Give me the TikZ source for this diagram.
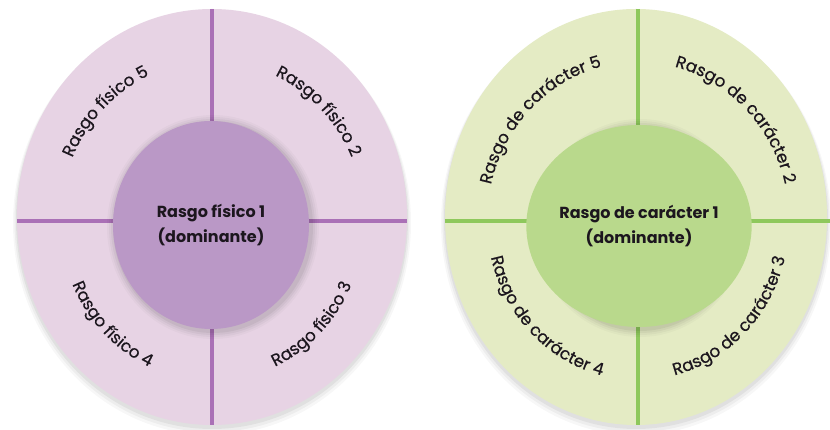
\documentclass[tikz,border=0pt]{standalone}
\usepackage{fontspec}
\setmainfont{Poppins}
\newfontfamily\labfamily[FakeBold=0.5]{Poppins}
\usetikzlibrary{shapes.geometric,decorations.text}
\definecolor{pinkOuter}{RGB}{231,211,228}
\definecolor{purpleInner}{RGB}{186,152,198}
\definecolor{purpleLine}{RGB}{170,112,182}
\definecolor{greenOuter}{RGB}{228,235,196}
\definecolor{greenInner}{RGB}{185,217,140}
\definecolor{greenLine}{RGB}{142,200,92}
\definecolor{inkText}{RGB}{28,22,30}
\newcommand{\labfont}{\labfamily\fontsize{16.8}{16.8}\selectfont\color{inkText}}
\tikzset{
  outerring/.style={ellipse, inner sep=0pt, draw=none, minimum height=416pt},
  innerdisc/.style={ellipse, inner sep=0pt, draw=none, align=center,
     text=inkText, font=\bfseries\fontsize{16}{25}\selectfont},
  divider/.style={line width=3.2pt},
  curvedlabel/.style={decorate, decoration={text along path, text align=center,
     text={|\labfont|#1}}}
}
\begin{document}
\begin{tikzpicture}[x=1pt,y=1pt]
\useasboundingbox (0,0) rectangle (830,430);
\fill[white] (0,0) rectangle (830,430);
\clip (0,0) rectangle (830,430);
% shadows of outer rings
\foreach \s/\o in {4/0.03,2.5/0.04,1/0.05}{
  \fill[black,opacity=\o] (212,211-\s) ellipse [x radius=195+\s, y radius=208+\s];
  \fill[black,opacity=\o] (636,211-\s) ellipse [x radius=191+\s, y radius=208+\s];
}
% ---------------- left diagram ----------------
\node[outerring, fill=pinkOuter, minimum width=390pt] (Lout) at (212,213) {};
\draw[divider, purpleLine] (Lout.north) -- (Lout.south);
\draw[divider, purpleLine] ([yshift=-4pt]Lout.west) -- ([yshift=-4pt]Lout.east);
\foreach \s/\o in {8/0.025,6/0.03,4/0.04,2/0.05}{
  \fill[black,opacity=\o] (213,203) ellipse [x radius=98+\s, y radius=104+\s];
}
\node[innerdisc, fill=purpleInner, minimum width=196pt, minimum height=208pt] (Lin) at (211,205)
  {Rasgo físico 1\\(dominante)};
\path[curvedlabel={Rasgo físico 5}] (212,209) ++(180:152 and 160) arc[start angle=180, end angle=90, x radius=152, y radius=160];
\path[curvedlabel={Rasgo físico 2}] (212,209) ++(90:152 and 160) arc[start angle=90, end angle=0, x radius=152, y radius=160];
\path[curvedlabel={Rasgo físico 3}] (212,209) ++(-90:152 and 160) arc[start angle=-90, end angle=0, x radius=152, y radius=160];
\path[curvedlabel={Rasgo físico 4}] (212,209) ++(180:152 and 160) arc[start angle=180, end angle=270, x radius=152, y radius=160];
% ---------------- right diagram ----------------
\node[outerring, fill=greenOuter, minimum width=382pt] (Rout) at (636,213) {};
\draw[divider, greenLine] ([xshift=2pt]Rout.north) -- ([xshift=2pt]Rout.south);
\draw[divider, greenLine] ([yshift=-4pt]Rout.west) -- ([yshift=-4pt,xshift=10pt]Rout.east);
\foreach \s/\o in {8/0.025,6/0.03,4/0.04,2/0.05}{
  \fill[black,opacity=\o] (640,202) ellipse [x radius=97+\s, y radius=101+\s];
}
\node[innerdisc, fill=greenInner, minimum width=194pt, minimum height=202pt] (Rin) at (639,204)
  {Rasgo de carácter 1\\(dominante)};
\path[curvedlabel={Rasgo de carácter 5}] (638,209) ++(180:151 and 159) arc[start angle=180, end angle=90, x radius=151, y radius=159];
\path[curvedlabel={Rasgo de carácter 2}] (638,209) ++(90:151 and 159) arc[start angle=90, end angle=0, x radius=151, y radius=159];
\path[curvedlabel={Rasgo de carácter 3}] (638,209) ++(-90:151 and 159) arc[start angle=-90, end angle=0, x radius=151, y radius=159];
\path[curvedlabel={Rasgo de carácter 4}] (638,209) ++(180:151 and 159) arc[start angle=180, end angle=270, x radius=151, y radius=159];
\end{tikzpicture}
\end{document}
